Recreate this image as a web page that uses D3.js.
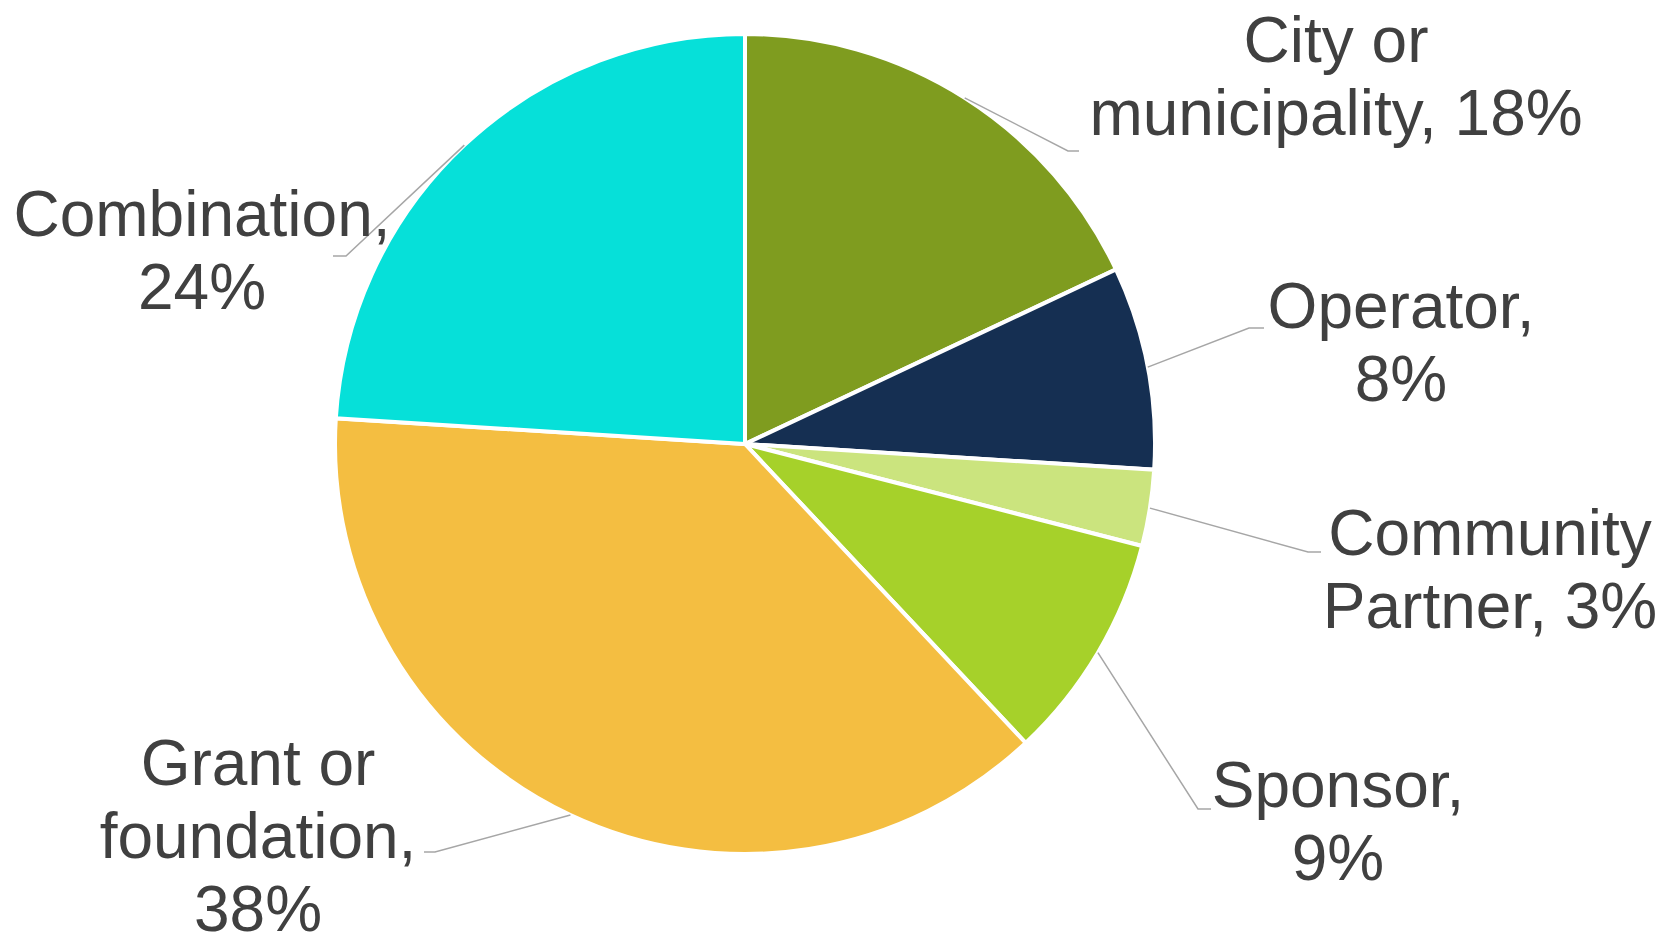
<!DOCTYPE html>
<html>
<head>
<meta charset="utf-8">
<script src="https://cdn.jsdelivr.net/npm/d3@7"></script>
<style>
  body { margin: 0; background: #fff; }
  svg { display: block; }
</style>
</head>
<body>
<div id="chart"></div>
<script>
// Données
const categories = ["City or municipality", "Operator", "Community Partner", "Sponsor", "Grant or foundation", "Combination"];
const values = [18, 8, 3, 9, 38, 24];
// texte des étiquettes, coupé en lignes comme dans l'original
const labelLines = [
  ["City or", "municipality, 18%"],
  ["Operator,", "8%"],
  ["Community", "Partner, 3%"],
  ["Sponsor,", "9%"],
  ["Grant or", "foundation,", "38%"],
  ["Combination,", "24%"]
];

const colors = ["#7f9c1f", "#152f52", "#cbe47e", "#a6d12a", "#f4be41", "#06e0d9"];

// mise en page des étiquettes : centre x, première ligne de base, coude du trait
const labelLayout = [
  { x: 1336, y: 62, elbow: [1068, 151], end: 1079 },
  { x: 1401, y: 328, elbow: [1249, 328], end: 1264 },
  { x: 1490, y: 555, elbow: [1308, 552], end: 1321 },
  { x: 1338, y: 807, elbow: [1198, 809], end: 1211 },
  { x: 258, y: 785, elbow: [435, 852], end: 424 },
  { x: 202, y: 236, elbow: [346, 256], end: 333 }
];

const width = 1670, height = 934;
const cx = 745, cy = 444, radius = 410;
const lineH = 73;

const svg = d3.select("#chart")
  .append("svg")
  .attr("width", width)
  .attr("height", height);

const g = svg.append("g")
  .attr("transform", "translate(" + cx + "," + cy + ")");

const pie = d3.pie().sort(null).value(d => d);
const arcs = pie(values);

const arc = d3.arc().innerRadius(0).outerRadius(radius);

// Tranches
g.selectAll("path.slice")
  .data(arcs)
  .enter()
  .append("path")
  .attr("class", "slice")
  .attr("d", arc)
  .style("fill", (d, i) => colors[i])
  .style("stroke", "#fff")
  .style("stroke-width", 4)
  .style("stroke-linejoin", "miter");

// Traits de rappel
svg.selectAll("polyline.leader")
  .data(arcs)
  .enter()
  .append("polyline")
  .attr("class", "leader")
  .attr("points", (d, i) => {
    const a = (d.startAngle + d.endAngle) / 2;
    const x0 = cx + radius * Math.sin(a);
    const y0 = cy - radius * Math.cos(a);
    const L = labelLayout[i];
    return [[x0, y0], L.elbow, [L.end, L.elbow[1]]].map(p => p.join(",")).join(" ");
  })
  .style("fill", "none")
  .style("stroke", "#a6a6a6")
  .style("stroke-width", 1.5);

// Étiquettes
const labels = svg.selectAll("text.label")
  .data(arcs)
  .enter()
  .append("text")
  .attr("class", "label")
  .attr("text-anchor", "middle")
  .attr("font-family", "Arial, 'Liberation Sans', sans-serif")
  .attr("font-size", "64px")
  .attr("fill", "#404040");

labels.each(function (d, i) {
  const L = labelLayout[i];
  d3.select(this).selectAll("tspan")
    .data(labelLines[i])
    .enter()
    .append("tspan")
    .attr("x", L.x)
    .attr("y", (t, j) => L.y + j * lineH)
    .text(t => t);
});
</script>
</body>
</html>
